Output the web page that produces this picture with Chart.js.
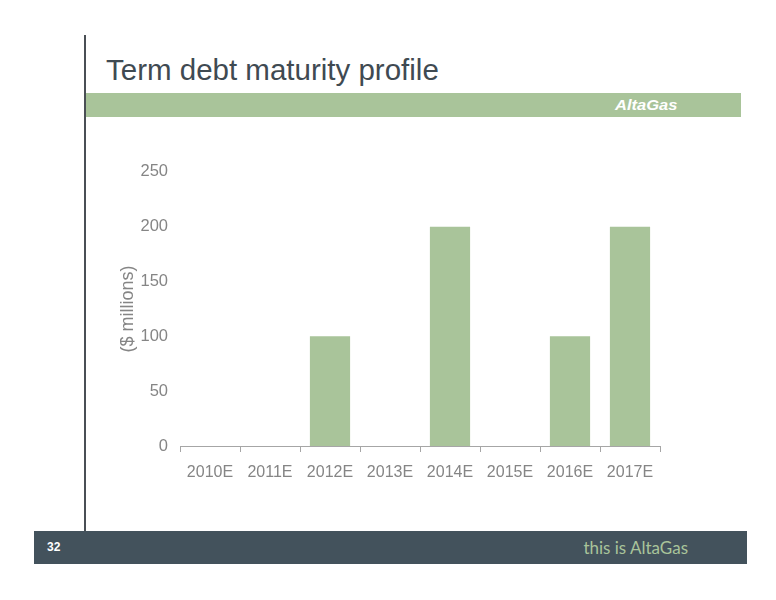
<!DOCTYPE html>
<html><head><meta charset="utf-8">
<script src="https://cdn.jsdelivr.net/npm/chart.js@4"></script>
<style>
html,body{margin:0;padding:0;background:#fff;}
body{width:776px;height:600px;position:relative;overflow:hidden;font-family:"Liberation Sans",Arial,sans-serif;}
#vline{position:absolute;left:84px;top:35px;width:2px;height:497px;background:#4a4f55;}
#title{position:absolute;left:106px;top:53px;font-size:29.5px;color:#3f4a52;white-space:nowrap;}
#band{position:absolute;left:86px;top:93px;width:655px;height:24px;background:#a9c49a;}
#bandtxt{position:absolute;left:529px;top:4px;font-size:14px;font-weight:bold;font-style:italic;color:#fff;display:inline-block;transform:scaleX(1.18);transform-origin:left center;}
#footer{position:absolute;left:34px;top:531px;width:713px;height:33px;background:#43525c;}
#pg{position:absolute;left:13px;top:9px;font-size:12px;font-weight:bold;color:#fff;}
#tag{position:absolute;right:59px;top:6px;font-size:17px;color:#a9c49a;font-family:Lato,"Open Sans",sans-serif;}
#wrap{position:absolute;left:100px;top:150px;width:580px;height:340px;}
</style></head><body>
<div id="vline"></div>
<div id="title">Term debt maturity profile</div>
<div id="band"><span id="bandtxt">AltaGas</span></div>
<div id="footer"><span id="pg">32</span><span id="tag">this is AltaGas</span></div>
<div id="wrap"><canvas id="c" width="580" height="340"></canvas></div>
<script>
const categories = ["2010E","2011E","2012E","2013E","2014E","2015E","2016E","2017E"];
const debtValues = [0,0,100,0,200,0,100,200];
const yTicks = [0,50,100,150,200,250];

new Chart(document.getElementById('c'), {
  type: 'bar',
  data: { labels: categories, datasets: [{ data: debtValues, backgroundColor: '#a9c49a', categoryPercentage: 1.0, barPercentage: 0.67 }] },
  options: {
    responsive: false, animation: false,
    layout: { padding: { top: 16, right: 20, bottom: 0, left: 0 } },
    plugins: { legend: { display: false }, tooltip: { enabled: false } },
    scales: {
      x: {
        grid: { display: true, drawOnChartArea: false, drawTicks: true, tickLength: 6, color: '#a6a6a6', offset: true },
        border: { display: true, color: '#a6a6a6' },
        ticks: { color: '#858585', font: { family: 'Liberation Sans', size: 16 }, padding: 11, maxRotation: 0 },
        afterFit: s => { s.height = 44; }
      },
      y: {
        min: 0, max: 250,
        afterBuildTicks: s => { s.ticks = yTicks.map(v => ({ value: v })); },
        grid: { display: false, drawTicks: false },
        border: { display: false },
        ticks: { color: '#858585', font: { family: 'Liberation Sans', size: 16.5 }, padding: 12 },
        title: { display: true, text: '($ millions)', color: '#858585', font: { family: 'Liberation Sans', size: 18 }, padding: { top: 17, bottom: 0 } },
        afterFit: s => { s.width = 80; }
      }
    }
  }
});
</script>
</body></html>
